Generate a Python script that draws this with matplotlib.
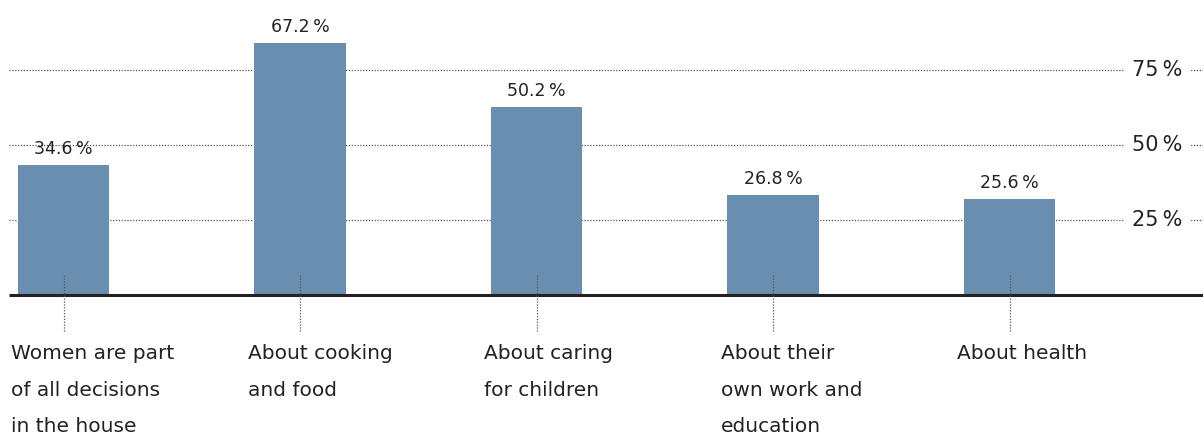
import matplotlib.pyplot as plt

plt.rcParams["font.family"] = ["DejaVu Sans"]

# Data
categories = [
    "Women are part\nof all decisions\nin the house",
    "About cooking\nand food",
    "About caring\nfor children",
    "About their\nown work and\neducation",
    "About health",
]
shares = [34.6, 67.2, 50.2, 26.8, 25.6]  # percent
tick_labels = [25, 50, 75]  # percent

# Colors
bar_color = "#6a8eaf"
text_color = "#222222"
grid_color = "#555555"

# the gridlines sit at 4/5 of the value printed next to them
grid_scale = 0.8

fig = plt.figure(figsize=(12.03, 4.36), dpi=100)
ax = fig.add_axes([0, 0, 1, 1])
ax.set_xlim(-0.2685, 4.818)
ax.set_ylim(-37.6, 78.67)
ax.axis("off")

x = list(range(len(shares)))
x_left = -0.23

# dotted gridlines with the labels on the right
for t in tick_labels:
    ax.hlines(t * grid_scale, x_left, 4.818, colors=grid_color,
              linestyles=(0, (1, 1.3)), linewidth=0.9, zorder=1)
    ax.text(4.624, t * grid_scale, f"{t}\u2009%", ha="center", va="center",
            fontsize=15, color=text_color, zorder=2,
            bbox=dict(fc="white", ec="none", pad=6))

ax.bar(x, shares, width=0.385, color=bar_color, zorder=3)

# baseline
ax.hlines(0, x_left, 4.818, colors=text_color, linewidth=2.2, zorder=4)

# leader lines from the bars down to the category labels
ax.vlines(x, -9.6, 5.6, colors=grid_color, linestyles=(0, (1, 1.3)),
          linewidth=0.9, zorder=5)

for i, v in enumerate(shares):
    ax.annotate(f"{v:.1f}\u2009%", (i, v), xytext=(0, 5), textcoords="offset points",
                ha="center", va="bottom", fontsize=12.5, color=text_color)
    ax.text(i - 0.222, -13.0, categories[i], ha="left", va="top",
            fontsize=14.5, color=text_color, linespacing=2.19)

fig.savefig("out.png", dpi=100)
